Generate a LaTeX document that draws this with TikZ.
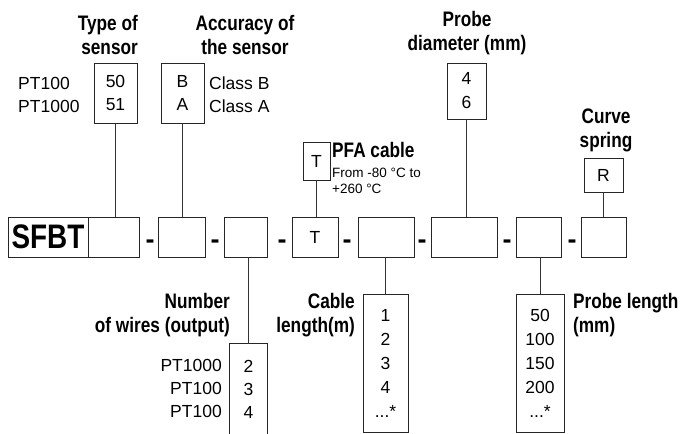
\documentclass[tikz,border=0pt]{standalone}
\usepackage{fontspec}
\setmainfont{Liberation Sans}
\newfontfamily\narrowsans[FakeStretch=0.82]{Liberation Sans}

\newcommand{\valfont}{\fontsize{17.5}{23}\selectfont}
\newcommand{\listfont}{\fontsize{17.5}{24}\selectfont}
\newcommand{\notefont}{\fontsize{13.5}{16}\selectfont}
\newcommand{\headfont}{\narrowsans\bfseries\fontsize{21}{24}\selectfont}

\tikzset{
	field/.style={draw=black!85, line width=0.8pt, inner sep=0pt, minimum height=40pt},
	valbox/.style={draw=black!85, line width=0.8pt, inner sep=0pt, align=center, font=\valfont},
	head/.style={inner sep=0pt, font=\headfont},
	lbl/.style={inner sep=0pt, font=\valfont},
	link/.style={draw=black!80, line width=0.9pt},
}

\begin{document}
\begin{tikzpicture}[x=1pt,y=-1pt]

		\useasboundingbox (0,0) rectangle (681,434);

		\node[field, minimum width=80pt, font=\narrowsans\bfseries\fontsize{34}{34}\selectfont] (sfbt) at (48,237) {SFBT};
		\node[field, minimum width=51pt] (mtype) at (113.5,237) {};
		\node[field, minimum width=47pt] (macc) at (181.5,237) {};
		\node[field, minimum width=43pt] (mwires) at (245.5,237) {};
		\node[field, minimum width=46pt, font=\valfont] (mpfa) at (315,237) {T};
		\node[field, minimum width=56pt] (mcable) at (386,237) {};
		\node[field, minimum width=66pt] (mdiam) at (464,237) {};
		\node[field, minimum width=45pt] (mlength) at (538.5,237) {};
		\node[field, minimum width=45pt] (mcurve) at (603.5,237) {};

		\foreach \x [count=\i] in {150,215,282,347,422,507,572}
			\node[inner sep=0pt, font=\bfseries\fontsize{27}{27}\selectfont, anchor=base] (dash\i) at (\x,248) {-};

		\node[valbox, minimum width=43pt, minimum height=60pt] (ttype) at (115.5,93) {50\\51};
		\node[valbox, minimum width=43pt, minimum height=60pt] (tacc) at (182.5,93) {B\\A};
		\node[valbox, minimum width=27pt, minimum height=38pt] (tpfa) at (316.5,161) {T};
		\node[valbox, minimum width=39pt, minimum height=56pt, font=\listfont] (tdiam) at (466.5,91) {4\\6};
		\node[valbox, minimum width=39pt, minimum height=34pt] (tcurve) at (603.5,175) {R};

		\node[lbl, align=center, minimum width=37pt, minimum height=90pt] (bwires) at (248.5,389) {2\\3\\4};
		\draw[draw=black!85, line width=0.8pt] (bwires.south west) -- (bwires.north west) -- (bwires.north east) -- (bwires.south east);
		\node[valbox, minimum width=45pt, minimum height=138pt, font=\listfont] (bcable) at (385.5,363) {1\\2\\3\\4\\...*};
		\node[valbox, minimum width=48pt, minimum height=138pt, font=\listfont] (blength) at (540,363) {50\\100\\150\\200\\...*};

		\node[head, align=right, anchor=base east] (typehd) at (138,54) {Type of\\sensor};
		\node[head, align=center, anchor=base] (acchd) at (245,54) {Accuracy of\\the sensor};
		\node[head, align=center, anchor=base] (diamhd) at (467,50) {Probe\\diameter (mm)};
		\node[head, align=center, anchor=base] (curvehd) at (606,147) {Curve\\spring};
		\node[head, anchor=base west] (pfahd) at (332,157) {PFA cable};
		\node[inner sep=0pt, font=\notefont, align=left, anchor=base west] (pfanote) at (332,193) {From -80 °C to\\+260 °C};

		\node[lbl, align=left, anchor=base west] (typelbl) at (18,112) {PT100\\PT1000};
		\node[lbl, align=left, anchor=base west] (acclbl) at (209,112) {Class B\\Class A};
		\node[lbl, align=right, anchor=base east] (wireslbl) at (222,417) {PT1000\\PT100\\PT100};

		\node[head, align=right, anchor=base east] (wireshd) at (230,332) {Number\\of wires (output)};
		\node[head, align=right, anchor=base east] (cablehd) at (355,332) {Cable\\length(m)};
		\node[head, align=left, anchor=base west] (lengthhd) at (573,332) {Probe length\\(mm)};

		\draw[link] (ttype.south) -- (ttype.south |- mtype.north);
		\draw[link] (tacc.south) -- (tacc.south |- macc.north);
		\draw[link] (tpfa.south) -- (tpfa.south |- mpfa.north);
		\draw[link] (tdiam.south) -- (tdiam.south |- mdiam.north);
		\draw[link] (tcurve.south) -- (mcurve.north);
		\draw[link] (bwires.north) -- (bwires.north |- mwires.south);
		\draw[link] (bcable.north) -- (bcable.north |- mcable.south);
		\draw[link] (blength.north) -- (blength.north |- mlength.south);
	\end{tikzpicture}
\end{document}
